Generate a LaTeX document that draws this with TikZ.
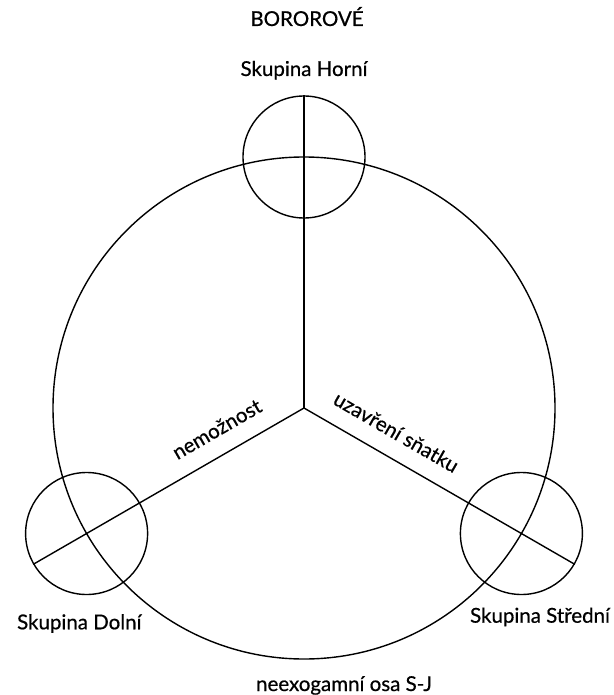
\documentclass[tikz,border=0pt]{standalone}
\usepackage{fontspec}
\setmainfont{Lato}[FakeBold=0.6]
\usetikzlibrary{calc}
\begin{document}
\begin{tikzpicture}[x=1pt,y=-1pt,
  ring/.style={draw=black, line width=1.4pt, circle, inner sep=0pt},
  bigring/.style={ring, minimum size=502pt},
  smallring/.style={ring, minimum size=122pt},
  axis/.style={line width=1.4pt, black},
  lbl/.style={font=\fontsize{20.5}{24}\selectfont, inner sep=0pt, anchor=base},
  rlbl/.style={font=\fontsize{20.5}{24}\selectfont, inner sep=0pt, anchor=base}]
\useasboundingbox (0,0) rectangle (613,695);
\coordinate (C) at (304,408);
\node[bigring] (big) at (C) {};
\node[smallring] (H) at (304,157) {};
\node[smallring] (D) at (86.6,533.5) {};
\node[smallring] (S) at (521.4,533.5) {};
\draw[axis] (C) -- (H.north);
\draw[axis] (C) -- (D.210);
\draw[axis] (C) -- (S.330);
\node[lbl] (title) at (307,26) {BOROROVÉ};
\node[lbl] (lH) at (304,76) {Skupina Horní};
\node[lbl] (lD) at (79.3,629.3) {Skupina Dolní};
\node[lbl] (lS) at (540,622.7) {Skupina Střední};
\node[lbl] (lB) at (344,691) {neexogamní osa S-J};
\node[rlbl, rotate=30] (lN) at ($(C)+(-0.866*86,0.5*86)+(-0.5*18,-0.866*18)$) {nemožnost};
\node[rlbl, rotate=-30] (lU) at ($(C)+(0.866*92,0.5*92)+(0.5*18,-0.866*18)$) {uzavření sňatku};
\end{tikzpicture}
\end{document}
